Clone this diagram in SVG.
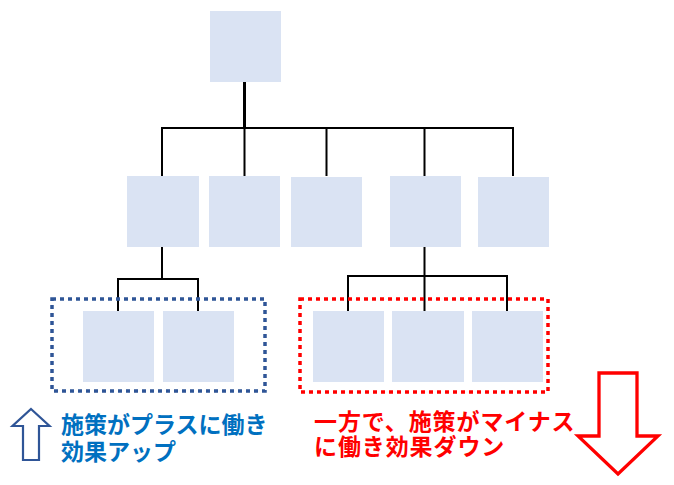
<svg xmlns="http://www.w3.org/2000/svg" width="674" height="485" viewBox="0 0 674 485">
<style>
.box{fill:#DAE3F3}
.ln{stroke:#000;stroke-width:2;fill:none}
.tx{font-family:"Noto Sans CJK JP","Noto Sans CJK SC",sans-serif;font-weight:bold;font-size:23px}
</style>
<rect width="674" height="485" fill="#fff"/>
<g id="connectors">
<path class="ln" d="M244.5,82 V128" style="stroke-width:3"/>
<path class="ln" d="M162,176 V128 H513 V176"/>
<path class="ln" d="M244.5,128 V176 M326.5,128 V176 M424.5,128 V176"/>
<path class="ln" d="M162,247 V279 M118,311 V279 H198 V311"/>
<path class="ln" d="M424.5,247 V311 M348,311 V276 H507 V311"/>
</g>
<g id="top"><rect class="box" x="210" y="11" width="71" height="71"/></g>
<g id="n1"><rect class="box" x="127" y="176" width="72" height="71"/></g>
<g id="n2"><rect class="box" x="209" y="176" width="71" height="71"/></g>
<g id="n3"><rect class="box" x="291" y="177" width="71" height="70"/></g>
<g id="n4"><rect class="box" x="390" y="176" width="71" height="71"/></g>
<g id="n5"><rect class="box" x="478" y="177" width="71" height="70"/></g>
<g id="b1"><rect class="box" x="83" y="311" width="71" height="71"/></g>
<g id="b2"><rect class="box" x="163" y="311" width="71" height="71"/></g>
<g id="b3"><rect class="box" x="313" y="311" width="71" height="71"/></g>
<g id="b4"><rect class="box" x="392" y="311" width="72" height="71"/></g>
<g id="b5"><rect class="box" x="472" y="311" width="71" height="71"/></g>
<g id="blue-group"><rect x="52" y="299" width="213" height="92" fill="none" stroke="#2F5597" stroke-width="3.5" stroke-dasharray="4 4"/></g>
<g id="red-group"><rect x="300" y="299" width="248" height="93" fill="none" stroke="#FF0000" stroke-width="3.5" stroke-dasharray="4 4"/></g>
<g id="up-arrow"><path d="M31,409 L49.5,426 L39,426 L39,460 L23,460 L23,426 L12.5,426 Z" fill="#fff" stroke="#2F5597" stroke-width="2.2"/></g>
<g id="down-arrow"><path d="M599,373 L637,373 L637,436 L658,436 L618,474 L578,436 L599,436 Z" fill="#fff" stroke="#FF0000" stroke-width="3.3"/></g>
<g id="blue-text" class="tx" fill="#0070C0">
<text x="61" y="433">施策がプラスに働き<tspan x="61" dy="27">効果アップ</tspan></text>
</g>
<g id="red-text" class="tx" fill="#FF0000">
<text x="314" y="430" letter-spacing="0.9">一方で、施策がマイナス<tspan x="314" dy="25">に働き効果ダウン</tspan></text>
</g>
</svg>
